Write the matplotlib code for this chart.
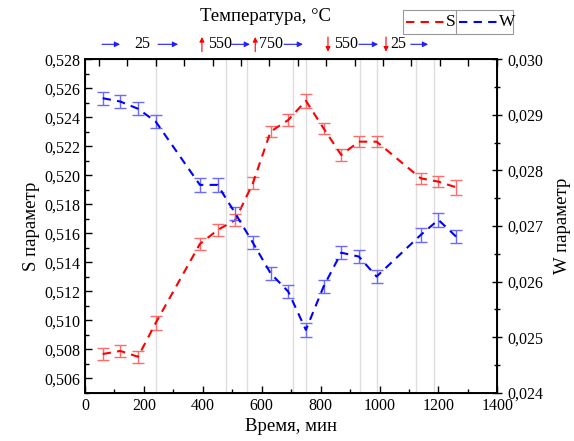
import numpy as np
import matplotlib
matplotlib.use('Agg')
import matplotlib.pyplot as plt
from matplotlib.ticker import FuncFormatter, MultipleLocator
from matplotlib.lines import Line2D
from matplotlib.patches import Rectangle

plt.rcParams['font.family'] = ['Liberation Serif', 'DejaVu Serif']

#Time points, minutes
time = [60, 120, 180, 240, 390, 450, 510, 570, 630, 690, 750, 810, 870, 930, 990, 1140, 1200, 1260]
#S parameter and its error
s_val = [0.50767, 0.50788, 0.50748, 0.50981, 0.51526, 0.51622, 0.51691, 0.51945, 0.52301, 0.52381,
         0.52514, 0.52324, 0.52140, 0.52232, 0.52232, 0.51979, 0.51956, 0.51917]
s_err = [0.0004, 0.0004, 0.0004, 0.0005, 0.0004, 0.0004, 0.0004, 0.0004, 0.0004, 0.0004,
         0.0005, 0.0004, 0.0004, 0.0004, 0.0004, 0.0004, 0.0004, 0.0005]
#W parameter and its error
w_val = [0.02930, 0.02924, 0.02911, 0.02888, 0.02774, 0.02774, 0.02723, 0.02670, 0.02615, 0.02582,
         0.02513, 0.02591, 0.02652, 0.02645, 0.02609, 0.02684, 0.02711, 0.02681]
w_err = [0.00012, 0.00012, 0.00012, 0.00012, 0.00012, 0.00012, 0.00012, 0.00012, 0.00012, 0.00012,
         0.00013, 0.00012, 0.00012, 0.00012, 0.00012, 0.00012, 0.00012, 0.00012]

#Stage boundaries (vertical grid)
stages = [240, 480, 550, 705, 752, 935, 990, 1125, 1185]

#Temperature stages on top: label text and position (min)
temp_labels = ['25', '550', '750', '550', '25']
temp_pos = [194, 460, 630, 888, 1064]
#blue arrows (start, end) in minutes
flow_arrows = [(58, 119), (248, 316), (497, 560), (676, 740), (930, 995), (1106, 1165)]
#red arrows: position and direction (+1 heating, -1 cooling)
heat_pos = [397, 578, 825, 1022]
heat_dir = [1, 1, -1, -1]

comma = FuncFormatter(lambda v, p: ('%.3f' % v).replace('.', ','))

fig = plt.figure(figsize=(5.74, 4.41), dpi=100)
ax = fig.add_axes([0.1481, 0.1095, 0.7183, 0.756])
ax2 = ax.twinx()

for x in stages:
    ax.axvline(x, color='#dddddd', lw=1, zorder=0)

ax.errorbar(time, s_val, yerr=s_err, fmt='none', ecolor='#ff6a6a', elinewidth=1, capsize=4, capthick=1)
ax.plot(time, s_val, color='red', lw=1.5, ls=(0, (4, 3)), label='S')
ax2.errorbar(time, w_val, yerr=w_err, fmt='none', ecolor='#6a6aff', elinewidth=1, capsize=4, capthick=1)
ax2.plot(time, w_val, color='blue', lw=1.5, ls=(0, (4, 3)), label='W')

ax.set_xlim(0, 1400)
ax.set_ylim(0.505, 0.528)
ax.set_yticks(np.arange(0.506, 0.5285, 0.002))
ax.yaxis.set_minor_locator(MultipleLocator(0.001))
ax.yaxis.set_major_formatter(comma)
ax.xaxis.set_major_locator(MultipleLocator(200))
ax.xaxis.set_minor_locator(MultipleLocator(100))

ax2.set_ylim(0.024, 0.030)
ax2.yaxis.set_major_locator(MultipleLocator(0.001))
ax2.yaxis.set_minor_locator(MultipleLocator(0.0005))
ax2.yaxis.set_major_formatter(comma)

ax.tick_params(axis='both', which='both', direction='in', labelsize=11.5, width=1)
ax.tick_params(axis='both', which='major', length=5)
ax.tick_params(axis='both', which='minor', length=3)
ax2.tick_params(axis='y', which='both', direction='inout', labelsize=11.5, width=1)
ax2.tick_params(axis='y', which='major', length=7)
ax2.tick_params(axis='y', which='minor', length=5)
for sp in list(ax.spines.values()) + list(ax2.spines.values()):
    sp.set_linewidth(1.2)

#top ticks (temperature axis)
ax3 = ax.twiny()
ax3.set_xlim(0, 1400)
ax3.set_xticks(np.arange(47, 1400, 96.5))
ax3.tick_params(axis='x', direction='in', length=5, width=1, labeltop=False)

ax.set_xlabel('Время, мин', fontsize=13.5, labelpad=3)
ax.set_ylabel('S параметр', fontsize=13.5, labelpad=3)
ax2.set_ylabel('W параметр', fontsize=13.5, rotation=90, labelpad=8)
fig.text(0.462, 0.962, 'Температура, °C', ha='center', va='center', fontsize=13.5)

#temperature stage annotations
yt = 1.045
for t, x in zip(temp_labels, temp_pos):
    ax.text(x, yt, t, transform=ax.get_xaxis_transform(), ha='center', va='center', fontsize=11.5)
for a, b in flow_arrows:
    ax.annotate('', xy=(b, yt), xytext=(a, yt), xycoords=ax.get_xaxis_transform(),
                arrowprops=dict(arrowstyle='-|>', color='#2020ff', lw=0.8, mutation_scale=8,
                                shrinkA=0, shrinkB=0), annotation_clip=False)
for x, d in zip(heat_pos, heat_dir):
    y0, y1 = (yt - 0.022, yt + 0.022) if d > 0 else (yt + 0.022, yt - 0.022)
    ax.annotate('', xy=(x, y1), xytext=(x, y0), xycoords=ax.get_xaxis_transform(),
                arrowprops=dict(arrowstyle='-|>', color='red', lw=0.8, mutation_scale=7,
                                shrinkA=0, shrinkB=0), annotation_clip=False)

#legend, drawn by hand (Origin style with divider)
W, H = 574.0, 441.0
ly = 1 - 22 / H
fig.add_artist(Rectangle((403 / W, 1 - 34 / H), 110 / W, 24 / H, transform=fig.transFigure,
                         fill=False, edgecolor='#999999', lw=0.8))
fig.add_artist(Line2D([456 / W, 456 / W], [1 - 34 / H, 1 - 10 / H], color='#999999', lw=0.8,
                      transform=fig.transFigure))
fig.add_artist(Line2D([406 / W, 444 / W], [ly, ly], color='red', lw=1.5, ls=(0, (4, 3)),
                      transform=fig.transFigure))
fig.add_artist(Line2D([459 / W, 497 / W], [ly, ly], color='blue', lw=1.5, ls=(0, (4, 3)),
                      transform=fig.transFigure))
fig.text(446 / W, ly, 'S', ha='left', va='center', fontsize=12.5)
fig.text(499 / W, ly, 'W', ha='left', va='center', fontsize=12.5)

fig.savefig('out.png', dpi=100)
